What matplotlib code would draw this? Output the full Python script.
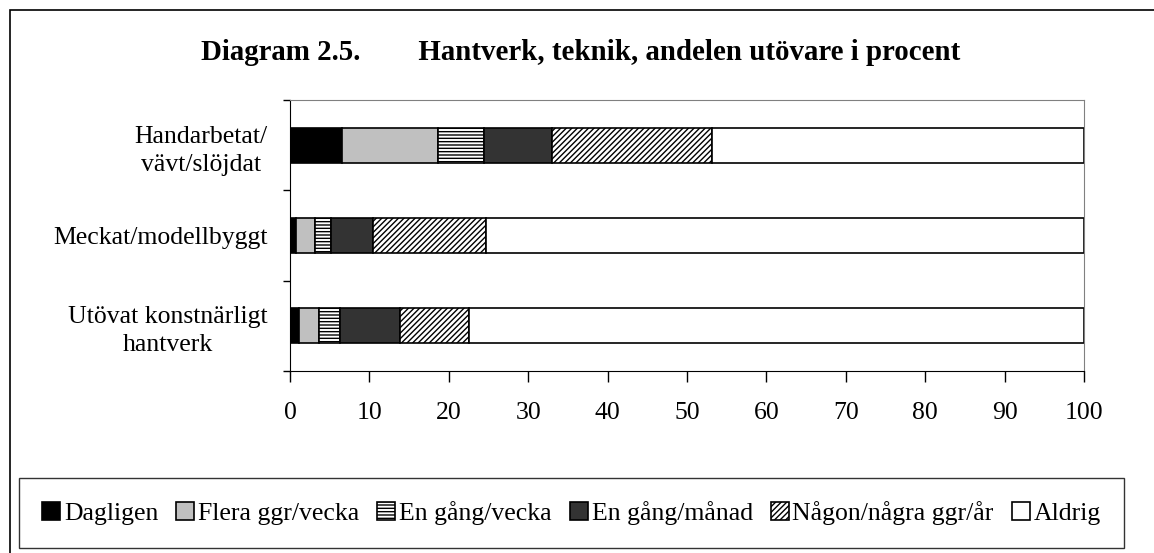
import numpy as np
import matplotlib
matplotlib.use('Agg')
import matplotlib.pyplot as plt
from matplotlib.patches import Rectangle

plt.rcParams['font.family'] = ['Liberation Serif', 'DejaVu Serif']
plt.rcParams['hatch.linewidth'] = 1.0

categories = ['Handarbetat/\nvävt/slöjdat', 'Meckat/modellbyggt',
              'Utövat konstnärligt\nhantverk']
series_names = ['Dagligen', 'Flera ggr/vecka', 'En gång/vecka', 'En gång/månad',
                'Någon/några ggr/år', 'Aldrig']
dagligen = [6.6, 0.8, 1.1]
flera_ggr_vecka = [12.0, 2.4, 2.6]
en_gang_vecka = [5.8, 2.0, 2.6]
en_gang_manad = [8.6, 5.3, 7.6]
nagon_ar = [20.1, 14.2, 8.6]
aldrig = [46.9, 75.3, 77.5]

series = [dagligen, flera_ggr_vecka, en_gang_vecka, en_gang_manad, nagon_ar, aldrig]
colors = ['black', '#c0c0c0', 'white', '#333333', 'white', 'white']
hatches = [None, None, '-----', None, '//////', None]

fig = plt.figure(figsize=(11.54, 5.53), dpi=100)
W, H = 1154, 553
ax = fig.add_axes([290 / W, 1 - 371 / H, (1084 - 290) / W, (371 - 100) / H])

y = np.arange(len(categories))
left = np.zeros(len(categories))
for name, vals, c, h in zip(series_names, series, colors, hatches):
    ax.barh(y, vals, left=left, height=0.39, color=c, edgecolor='black',
            linewidth=1.2, hatch=h, label=name)
    left += np.array(vals)

ax.set_xlim(0, 100)
ax.set_ylim(2.5, -0.5)
ax.set_xticks(range(0, 101, 10))
ax.set_yticks(y)
ax.set_yticklabels(categories)
for lab in ax.get_yticklabels():
    lab.set_multialignment('center')
    lab.set_linespacing(1.35)
ax.set_yticks([-0.5, 0.5, 1.5, 2.5], minor=True)
ax.tick_params(axis='y', which='major', length=0, pad=16, labelsize=18.5)
ax.tick_params(axis='y', which='minor', length=5, width=1, direction='out')
ax.tick_params(axis='x', length=8, width=1, labelsize=18.5, pad=14)

ax.spines['top'].set_color('#808080')
ax.spines['right'].set_color('#808080')
ax.spines['left'].set_color('black')
ax.spines['bottom'].set_color('black')

fig.text(0.503, 1 - 52 / H,
         'Diagram 2.5.        Hantverk, teknik, andelen utövare i procent',
         ha='center', va='center', fontsize=20.8, fontweight='bold')

leg = fig.legend(loc='center', bbox_to_anchor=(19 / W, 1 - 546 / H, (1124 - 19) / W, 66 / H),
                 mode='expand', borderaxespad=0, ncol=6,
                 frameon=True, fancybox=False, edgecolor='black', fontsize=18.5,
                 handlelength=0.7, handleheight=0.7, handletextpad=0.15,
                 columnspacing=0.5, borderpad=0.9)
leg.get_frame().set_linewidth(1.0)

fig.add_artist(Rectangle((10 / W, -0.2), 1.3, 1.2 - 10 / H,
                         transform=fig.transFigure, fill=False,
                         edgecolor='black', linewidth=1.2))

fig.savefig('out.png', dpi=100)
